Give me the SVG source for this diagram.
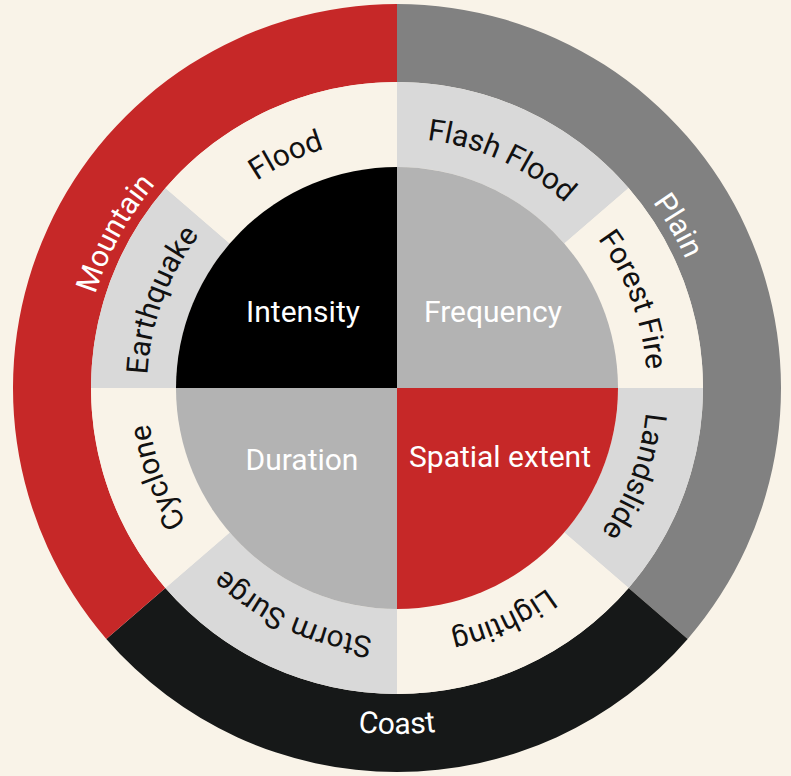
<svg xmlns="http://www.w3.org/2000/svg" xmlns:xlink="http://www.w3.org/1999/xlink" width="791" height="776" viewBox="0 0 791 776">
  <style>
    .bg { fill: #f9f3e8; }
    .red { fill: #c62828; }
    .grey { fill: #818181; }
    .coast { fill: #161818; }
    .light { fill: #d9d9d9; }
    .cream { fill: #f9f3e8; }
    .mid { fill: #b3b3b3; }
    .black { fill: #000000; }
    text { font-family: Roboto, "Liberation Sans", sans-serif; }
    .ring-label { font-size: 30px; fill: #ffffff; }
    .hazard { font-size: 30px; fill: #111111; }
    .core { font-size: 30px; fill: #ffffff; text-anchor: middle; }
  </style>
  <defs>
    <!-- Text arcs, centred on the top of the disc (270deg); each label rotates its own copy -->
    <path id="arcMid" d="M162.08,302.49 A250,250 0 0 1 631.92,302.49"/>
    <path id="arcOuter" d="M100.06,279.92 A316,316 0 0 1 693.94,279.92"/>
    <!-- Counter-clockwise arc across the bottom, so the label reads left to right -->
    <path id="arcCoast" d="M71.87,506.34 A346,346 0 0 0 722.13,506.34"/>
  </defs>

  <rect class="bg" x="0" y="0" width="791" height="776"/>

  <!-- Outer ring: landforms -->
  <g id="plain">
    <path class="grey" d="M397,4 A384,384 0 0 1 687.69,638.91 L628.64,587.95 A306,306 0 0 0 397,82 Z"/>
    <text class="ring-label" transform="rotate(60 397 388)"><textPath href="#arcOuter" startOffset="50%" text-anchor="middle">Plain</textPath></text>
  </g>
  <g id="coast">
    <path class="coast" d="M687.69,638.91 A384,384 0 0 1 106.31,638.91 L165.36,587.95 A306,306 0 0 0 628.64,587.95 Z"/>
    <text class="ring-label"><textPath href="#arcCoast" startOffset="50%" text-anchor="middle">Coast</textPath></text>
  </g>
  <g id="mountain">
    <path class="red" d="M106.31,638.91 A384,384 0 0 1 397,4 L397,82 A306,306 0 0 0 165.36,587.95 Z"/>
    <text class="ring-label" transform="rotate(-61.3 397 388)"><textPath href="#arcOuter" startOffset="50%" text-anchor="middle">Mountain</textPath></text>
  </g>

  <!-- Middle ring: hazards -->
  <g id="landslide">
    <path class="light" d="M703,388 A306,306 0 0 1 628.64,587.95 L564.30,532.41 A221,221 0 0 0 618,388 Z"/>
    <text class="hazard" transform="rotate(110.4 397 388)"><textPath href="#arcMid" startOffset="50%" text-anchor="middle">Landslide</textPath></text>
  </g>
  <g id="lighting">
    <path class="cream" d="M628.64,587.95 A306,306 0 0 1 397,694 L397,609 A221,221 0 0 0 564.30,532.41 Z"/>
    <text class="hazard" transform="rotate(155.4 397 388)"><textPath href="#arcMid" startOffset="50%" text-anchor="middle">Lighting</textPath></text>
  </g>
  <g id="storm-surge">
    <path class="light" d="M397,694 A306,306 0 0 1 165.36,587.95 L229.70,532.41 A221,221 0 0 0 397,609 Z"/>
    <text class="hazard" transform="rotate(204.6 397 388)"><textPath href="#arcMid" startOffset="50%" text-anchor="middle">Storm Surge</textPath></text>
  </g>
  <g id="cyclone">
    <path class="cream" d="M165.36,587.95 A306,306 0 0 1 91,388 L176,388 A221,221 0 0 0 229.70,532.41 Z"/>
    <text class="hazard" transform="rotate(-110.4 397 388)"><textPath href="#arcMid" startOffset="50%" text-anchor="middle">Cyclone</textPath></text>
  </g>
  <g id="earthquake">
    <path class="light" d="M91,388 A306,306 0 0 1 165.36,188.05 L229.70,243.59 A221,221 0 0 0 176,388 Z"/>
    <text class="hazard" transform="rotate(-69.6 397 388)"><textPath href="#arcMid" startOffset="50%" text-anchor="middle">Earthquake</textPath></text>
  </g>
  <g id="flood">
    <path class="cream" d="M165.36,188.05 A306,306 0 0 1 397,82 L397,167 A221,221 0 0 0 229.70,243.59 Z"/>
    <text class="hazard" transform="rotate(-25.5 397 388)"><textPath href="#arcMid" startOffset="50%" text-anchor="middle">Flood</textPath></text>
  </g>
  <g id="flash-flood">
    <path class="light" d="M397,82 A306,306 0 0 1 628.64,188.05 L564.30,243.59 A221,221 0 0 0 397,167 Z"/>
    <text class="hazard" transform="rotate(24.6 397 388)"><textPath href="#arcMid" startOffset="50%" text-anchor="middle">Flash Flood</textPath></text>
  </g>
  <g id="forest-fire">
    <path class="cream" d="M628.64,188.05 A306,306 0 0 1 703,388 L618,388 A221,221 0 0 0 564.30,243.59 Z"/>
    <text class="hazard" transform="rotate(69.6 397 388)"><textPath href="#arcMid" startOffset="50%" text-anchor="middle">Forest Fire</textPath></text>
  </g>

  <!-- Core: hazard characteristics -->
  <g id="intensity">
    <path class="black" d="M397,388 L176,388 A221,221 0 0 1 397,167 Z"/>
    <text class="core" x="303" y="322">Intensity</text>
  </g>
  <g id="frequency">
    <path class="mid" d="M397,388 L397,167 A221,221 0 0 1 618,388 Z"/>
    <text class="core" x="493" y="322">Frequency</text>
  </g>
  <g id="spatial-extent">
    <path class="red" d="M397,388 L618,388 A221,221 0 0 1 397,609 Z"/>
    <text class="core" x="500" y="467">Spatial extent</text>
  </g>
  <g id="duration">
    <path class="mid" d="M397,388 L397,609 A221,221 0 0 1 176,388 Z"/>
    <text class="core" x="302" y="470">Duration</text>
  </g>
</svg>
